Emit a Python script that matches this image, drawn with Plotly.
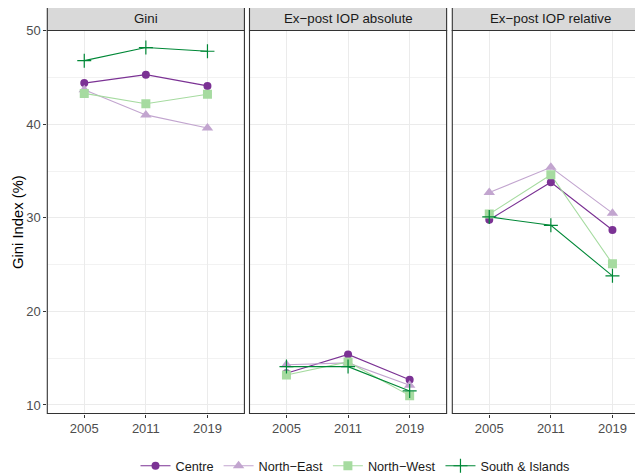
import plotly.graph_objects as go

years = ["2005", "2011", "2019"]
panels = ["Gini", "Ex\u2212post IOP absolute", "Ex\u2212post IOP relative"]
regions = ["Centre", "North\u2212East", "North\u2212West", "South & Islands"]

# values per panel, per region (2005, 2011, 2019)
gini_centre = [44.4, 45.3, 44.1]
gini_northeast = [43.7, 41.0, 39.6]
gini_northwest = [43.3, 42.2, 43.2]
gini_south = [46.8, 48.2, 47.8]

abs_centre = [13.4, 15.4, 12.7]
abs_northeast = [14.3, 14.5, 12.1]
abs_northwest = [13.2, 14.6, 11.0]
abs_south = [14.1, 14.1, 11.5]

rel_centre = [29.8, 33.8, 28.7]
rel_northeast = [32.7, 35.4, 30.5]
rel_northwest = [30.4, 34.6, 25.1]
rel_south = [30.1, 29.2, 23.8]

data = [
    [gini_centre, gini_northeast, gini_northwest, gini_south],
    [abs_centre, abs_northeast, abs_northwest, abs_south],
    [rel_centre, rel_northeast, rel_northwest, rel_south],
]

colors = ["#7B3294", "#C2A5CF", "#A6DBA0", "#008837"]
symbols = ["circle", "triangle-up", "square", "cross-thin"]
msizes = [8, 10, 9, 10]

OFF = 8  # page body margin
W, H = 643 - OFF, 475 - OFF
px = 61.6
p_left = [47.3 - OFF, 249.5 - OFF, 452.3 - OFF]
p_right = [p + 3.2 * px for p in p_left]
y_top_px, y_bot_px = 30.5 - OFF, 413.5 - OFF
yr = [9.09, 50.02]


def py(y):
    return (H - y) / H


fig = go.Figure()

for pi in range(3):
    xa = "x" if pi == 0 else f"x{pi+1}"
    ya = "y" if pi == 0 else f"y{pi+1}"
    for ri in range(4):
        fig.add_trace(go.Scatter(x=years, y=data[pi][ri], mode="lines",
                                 line=dict(color=colors[ri], width=1.1),
                                 xaxis=xa, yaxis=ya, showlegend=False, hoverinfo="skip"))
    for ri in range(4):
        mk = dict(color=colors[ri], size=msizes[ri], symbol=symbols[ri])
        if symbols[ri] == "cross-thin":
            mk["line"] = dict(color=colors[ri], width=1.2)
        fig.add_trace(go.Scatter(x=years, y=data[pi][ri], mode="markers",
                                 marker=mk, name=regions[ri],
                                 xaxis=xa, yaxis=ya, showlegend=False))

for ri in range(4):
    mk = dict(color=colors[ri], size=msizes[ri], symbol=symbols[ri])
    if symbols[ri] == "cross-thin":
        mk["line"] = dict(color=colors[ri], width=1.2)
    fig.add_trace(go.Scatter(x=[None], y=[None], mode="lines+markers", name=regions[ri],
                             marker=mk, line=dict(color=colors[ri], width=1.1),
                             xaxis="x", yaxis="y"))

ydom = [py(y_bot_px), py(y_top_px)]
layout = dict(
    width=W, height=H,
    margin=dict(l=0, r=0, t=0, b=0, autoexpand=False),
    paper_bgcolor="white", plot_bgcolor="white",
    font=dict(family="Liberation Sans, Arial, sans-serif", size=13, color="#4D4D4D"),
    showlegend=True,
    legend=dict(orientation="h", x=(355 - OFF) / W, xanchor="center", y=py(466 - OFF), yanchor="middle",
                font=dict(size=12.7, color="#1A1A1A"), itemwidth=30, tracegroupgap=0,
                bgcolor="rgba(0,0,0,0)"),
)

shapes = []
annotations = []
for pi in range(3):
    sfx = "" if pi == 0 else str(pi + 1)
    x0 = p_left[pi] / W
    x1 = min(p_right[pi] / W, 1.0)
    xmax = 2.6 if p_right[pi] <= W else 2.6 - (p_right[pi] - W) / px
    layout["xaxis" + sfx] = dict(
        domain=[x0, x1], type="category", range=[-0.6, xmax],
        anchor="y" + sfx, showgrid=True, gridcolor="#EBEBEB", gridwidth=1,
        ticks="outside", ticklen=3, tickcolor="#333333", tickwidth=1,
        tickfont=dict(size=13, color="#4D4D4D"), showline=False, zeroline=False,
        automargin=False,
    )
    layout["yaxis" + sfx] = dict(
        domain=ydom, range=yr, anchor="x" + sfx,
        tickvals=[10, 20, 30, 40, 50], showgrid=True, gridcolor="#EBEBEB", gridwidth=1,
        minor=dict(tickvals=[15, 25, 35, 45], showgrid=True, gridcolor="#F2F2F2", gridwidth=0.6),
        ticks="outside" if pi == 0 else "", ticklen=3, tickcolor="#333333", tickwidth=1,
        showticklabels=(pi == 0), tickfont=dict(size=13, color="#4D4D4D"),
        showline=False, zeroline=False, automargin=False,
    )
    rx1 = p_right[pi] / W
    # panel border
    shapes.append(dict(type="rect", xref="paper", yref="paper", x0=x0, x1=rx1,
                       y0=ydom[0], y1=ydom[1], line=dict(color="#333333", width=1.1),
                       fillcolor="rgba(0,0,0,0)", layer="above"))
    # strip
    shapes.append(dict(type="rect", xref="paper", yref="paper", x0=x0, x1=rx1,
                       y0=py(30.5 - OFF), y1=py(7.5 - OFF), line=dict(color="#333333", width=1.1),
                       fillcolor="#D9D9D9", layer="above"))
    annotations.append(dict(text=panels[pi], xref="paper", yref="paper",
                            x=(p_left[pi] + p_right[pi]) / 2 / W, y=py(19 - OFF),
                            xanchor="center", yanchor="middle", showarrow=False,
                            font=dict(size=13.3, color="#1A1A1A")))

annotations.append(dict(text="Gini Index (%)", xref="paper", yref="paper", x=(18 - OFF) / W,
                        y=(ydom[0] + ydom[1]) / 2, textangle=-90, showarrow=False,
                        xanchor="center", yanchor="middle", font=dict(size=14.8, color="#000000")))

layout["shapes"] = shapes
layout["annotations"] = annotations
fig.update_layout(**layout)
fig.write_html("out.html")
